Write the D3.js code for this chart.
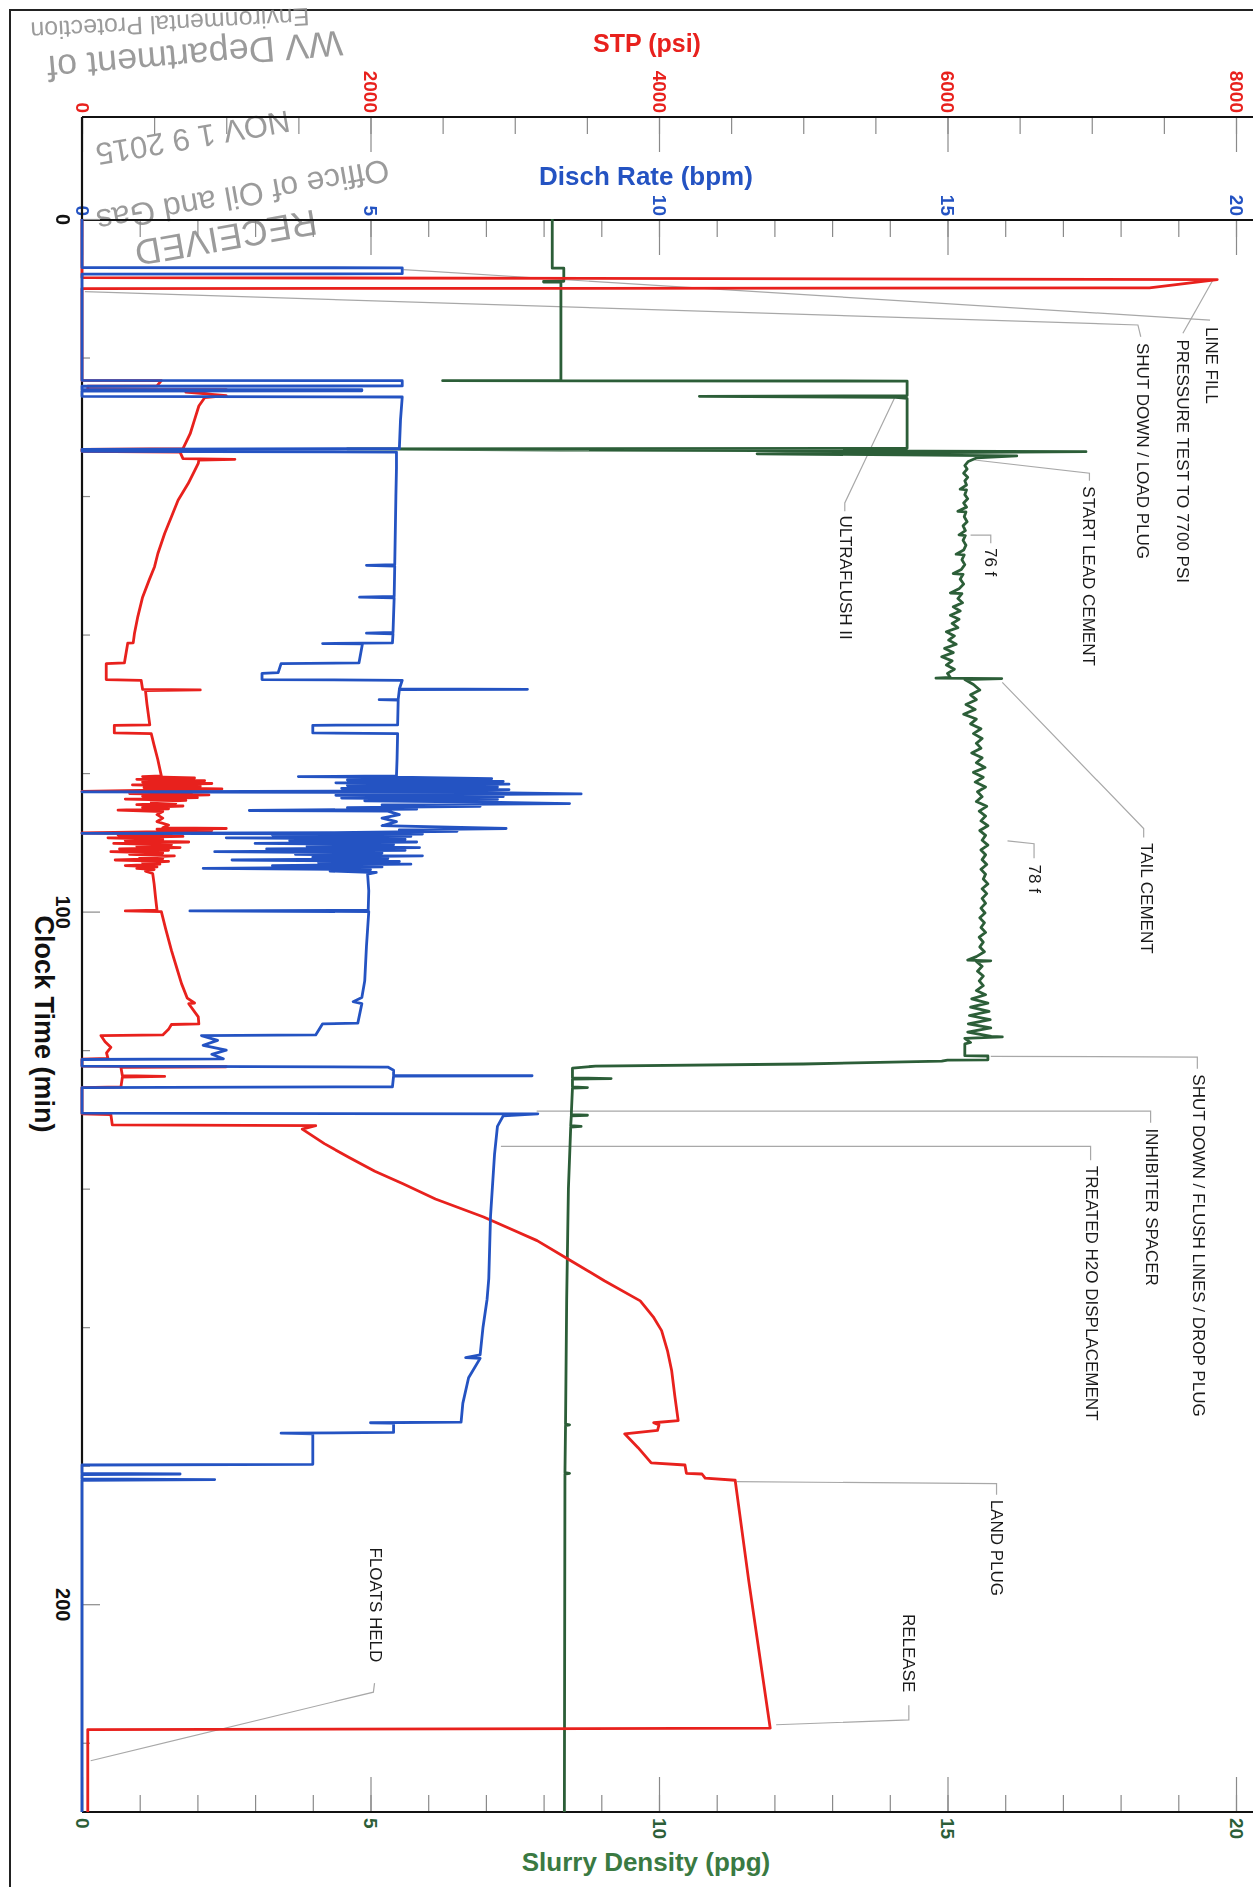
<!DOCTYPE html>
<html>
<head>
<meta charset="utf-8">
<script src="https://cdn.jsdelivr.net/npm/d3@7"></script>
<style>
  body { margin: 0; background: #fff; }
  text { font-family: "Liberation Sans", Arial, sans-serif; }
</style>
</head>
<body>
<svg id="chart" width="1253" height="1887"></svg>
<script>
// ---- data: [clock time (min), value] ----
const stpPsi = [
  [0, 0], [8.45, 0], [8.75, 7870], [9.95, 7400], [10.05, 0], [23.3, 0],
  [23.35, 550], [24.1, 520], [24.15, 40], [24.6, 40], [24.65, 1000], [25.0, 720], [25.5, 1000],
  [25.8, 850], [27.0, 810], [29.0, 780], [31.0, 750], [33.15, 700], [33.25, 0], [33.55, 0],
  [33.65, 680], [34.6, 700], [34.7, 1060], [34.8, 810], [35.3, 806], [38.2, 736], [40.6, 666],
  [43.0, 620], [45.4, 573], [48.3, 526], [50.2, 503], [52.1, 466], [54.6, 420], [57.4, 387],
  [59.8, 364], [61.2, 355], [61.25, 317], [64.1, 294], [64.2, 168], [66.5, 168], [66.6, 410],
  [67.9, 420], [68.0, 820], [68.1, 440], [70, 450], [73.05, 470], [73.1, 224], [74.2, 224],
  [74.3, 480], [76, 500], [78, 525], [80.4, 550],
  [80.5, 420], [80.7, 780], [80.9, 380], [81.1, 850], [81.3, 420], [81.5, 900], [81.7, 350],
  [81.9, 820], [82.1, 430], [82.3, 970], [82.5, 400], [82.65, 0], [82.75, 760], [82.95, 330],
  [83.15, 880], [83.35, 420], [83.55, 800], [83.75, 300], [83.95, 720], [84.15, 480], [84.35, 650],
  [84.55, 380], [84.75, 700], [84.95, 420], [85.15, 600], [85.35, 250], [85.55, 560], [86.0, 520],
  [86.5, 560], [87.0, 520], [87.5, 600], [87.9, 560], [88.0, 1000], [88.1, 520], [88.3, 900],
  [88.5, 450], [88.65, 0], [88.75, 620], [88.95, 250], [89.15, 700], [89.35, 180], [89.55, 560],
  [89.75, 300], [89.95, 740], [90.15, 220], [90.35, 620], [90.55, 380], [90.75, 680], [90.95, 260],
  [91.15, 600], [91.35, 200], [91.55, 560], [91.75, 330], [91.95, 640], [92.15, 400], [92.35, 560],
  [92.55, 230], [92.75, 600], [92.95, 420], [93.15, 540], [93.35, 300], [93.55, 520], [93.75, 380],
  [93.95, 500], [94.15, 440], [94.5, 490], [96, 500], [98, 510], [99.8, 520], [99.9, 300],
  [100.0, 550], [102.5, 580], [105.6, 620], [108, 655], [110.4, 690], [112.5, 730], [113.2, 780],
  [113.3, 740], [115.2, 806], [116.2, 810], [116.3, 620], [117.0, 600], [117.8, 560], [117.9, 131],
  [118.8, 160], [119.6, 200], [120.4, 170], [121.2, 180], [121.3, 0], [122.3, 0], [122.4, 1000],
  [122.5, 270], [123.7, 280], [123.8, 573], [123.9, 280], [125.3, 270], [125.4, 0], [129.2, 0],
  [129.3, 200], [130.8, 210], [130.9, 1620], [131.4, 1527], [133.5, 1680], [135.5, 1852],
  [137.5, 2030], [139.3, 2225], [141.5, 2450], [144.1, 2784], [147.5, 3155], [150.4, 3389],
  [153.3, 3621], [156.2, 3870], [158.5, 3960], [160.5, 4018], [163.5, 4060], [166.3, 4088],
  [170, 4110], [173.5, 4133], [173.8, 3963], [174.1, 4000], [174.9, 3990], [175.4, 3762],
  [177.4, 3855], [179.6, 3946], [179.9, 4180], [181.1, 4190], [181.2, 4298], [181.8, 4320],
  [182.1, 4528], [196.6, 4622], [217.9, 4771], [218.1, 40], [230, 40]
];

const dischRate = [
  [0, 0], [7.0, 0], [7.05, 5.55], [7.9, 5.55], [7.95, 0], [23.3, 0], [23.35, 5.55], [24.1, 5.55],
  [24.15, 0], [24.6, 0], [24.65, 4.85], [24.8, 4.85], [24.85, 0], [25.6, 0], [25.7, 5.55],
  [29, 5.52], [33.15, 5.5], [33.25, 0], [33.55, 0], [33.65, 5.45], [36, 5.45], [40, 5.44],
  [45, 5.43], [49.9, 5.42], [50.0, 4.93], [50.1, 5.42], [54.5, 5.41], [54.6, 4.81], [54.7, 5.41],
  [59.7, 5.39], [59.8, 4.93], [59.9, 5.39], [61.2, 5.38], [61.3, 4.17], [61.35, 4.86], [64.1, 4.8],
  [64.2, 3.45], [65.5, 3.4], [65.6, 3.12], [66.5, 3.12], [66.6, 5.55], [67.85, 5.5], [67.9, 7.72],
  [67.95, 5.5], [69.35, 5.48], [69.4, 5.15], [69.45, 5.48], [73.05, 5.47], [73.1, 4.0], [74.2, 4.0],
  [74.3, 5.47], [78, 5.46], [80.4, 5.45],
  [80.5, 3.75], [80.6, 5.45], [80.8, 7.1], [81.0, 4.6], [81.2, 7.3], [81.4, 4.4], [81.6, 7.4],
  [81.8, 4.6], [82.0, 7.2], [82.2, 4.5], [82.4, 7.4], [82.6, 4.8], [82.7, 0], [82.8, 6.8],
  [83.0, 8.65], [83.2, 4.4], [83.4, 7.3], [83.6, 4.5], [83.8, 7.2], [84.0, 4.9], [84.2, 7.0],
  [84.4, 8.45], [84.6, 5.2], [84.8, 6.9], [85.0, 4.6], [85.2, 5.8], [85.4, 2.9], [85.5, 5.3],
  [86.0, 5.5], [86.5, 5.2], [87.0, 5.45], [87.6, 5.2], [88.0, 7.35], [88.2, 5.5], [88.4, 6.5],
  [88.6, 4.3], [88.7, 0], [88.8, 5.9], [88.95, 3.3], [89.15, 5.7], [89.35, 2.5], [89.55, 5.6],
  [89.75, 3.6], [89.95, 5.8], [90.15, 3.0], [90.35, 5.4], [90.55, 3.9], [90.75, 5.85], [90.95, 3.2],
  [91.15, 5.6], [91.35, 2.3], [91.55, 5.2], [91.75, 3.7], [91.95, 5.9], [92.15, 4.0], [92.35, 5.3],
  [92.55, 2.6], [92.75, 5.5], [92.95, 4.1], [93.15, 5.7], [93.35, 3.3], [93.55, 5.2], [93.75, 2.1],
  [93.95, 5.0], [94.15, 4.3], [94.35, 5.1], [94.6, 4.95], [97, 4.97], [99.8, 4.96], [99.9, 1.87],
  [100.0, 4.97], [105, 4.93], [110, 4.9], [112.4, 4.85], [113.0, 4.7], [113.3, 4.85], [116.1, 4.78],
  [116.2, 4.17], [117.8, 4.05], [117.9, 2.07], [118.6, 2.35], [119.3, 2.1], [120.0, 2.5],
  [120.6, 2.25], [121.25, 2.45], [121.35, 0], [122.3, 0], [122.45, 5.3], [122.9, 5.4],
  [123.65, 5.4], [123.7, 7.8], [123.75, 5.4], [125.3, 5.38], [125.4, 0], [129.1, 0], [129.2, 7.9],
  [129.5, 7.3], [131, 7.2], [135, 7.15], [144, 7.08], [153, 7.05], [156, 7.02], [160, 6.95],
  [164, 6.9], [164.4, 6.65], [164.5, 6.9], [167.3, 6.7], [171, 6.6], [173.7, 6.57], [173.8, 5.0],
  [173.9, 5.4], [175.2, 5.4], [175.3, 3.45], [175.4, 4.0], [179.8, 4.0], [179.9, 0], [181.1, 0],
  [181.2, 1.7], [181.3, 0], [181.9, 0], [182.0, 2.3], [182.1, 0], [230, 0]
];

const slurryDensity = [
  [0, 8.15], [7.1, 8.15], [7.1, 8.35], [9.0, 8.35], [9.0, 8.0], [9.1, 8.0], [9.1, 8.3], [23.3, 8.3],
  [23.35, 6.25], [23.4, 14.3], [25.5, 14.3], [25.6, 10.7], [25.75, 14.1], [25.9, 14.3], [33.1, 14.3],
  [33.2, 4.6], [33.35, 8.3], [33.6, 17.4], [33.9, 11.7], [34.2, 16.2], [34.5, 15.5], [35.0, 15.36],
  [35.6, 15.30], [36.1, 15.34], [36.7, 15.28], [37.3, 15.35], [37.8, 15.30], [38.4, 15.33],
  [39.0, 15.22], [39.1, 15.33], [39.8, 15.30], [40.4, 15.35], [41.0, 15.28], [41.6, 15.33],
  [42.2, 15.18], [42.3, 15.32], [43.0, 15.29], [43.7, 15.34], [44.3, 15.27], [45.0, 15.31],
  [45.6, 15.20], [45.7, 15.31], [46.4, 15.27], [47.1, 15.32], [47.8, 15.28], [48.4, 15.15],
  [48.5, 15.29], [49.2, 15.25], [49.9, 15.30], [50.6, 15.24], [51.2, 15.10], [51.3, 15.27],
  [52.0, 15.22], [52.7, 15.28], [53.4, 15.20], [54.0, 15.05], [54.1, 15.25], [54.8, 15.18],
  [55.4, 15.26], [56.0, 15.10], [56.6, 15.22], [57.2, 15.05], [57.8, 15.20], [58.4, 15.08],
  [59.0, 15.18], [59.6, 14.98], [60.2, 15.12], [60.8, 15.02], [61.4, 15.15], [62.0, 14.95],
  [62.6, 15.10], [63.2, 14.90], [63.8, 15.08], [64.4, 14.98], [65.0, 15.12], [65.6, 15.0],
  [66.2, 15.05], [66.3, 14.8], [66.35, 15.94], [66.5, 15.3], [67.2, 15.45], [68.0, 15.56],
  [68.7, 15.4], [69.4, 15.5], [70.1, 15.32], [70.8, 15.48], [71.5, 15.28], [72.2, 15.5],
  [72.9, 15.4], [73.6, 15.58], [74.3, 15.45], [75.0, 15.6], [75.7, 15.5], [76.4, 15.58],
  [77.1, 15.42], [77.8, 15.6], [78.5, 15.5], [79.2, 15.65], [79.9, 15.45], [80.6, 15.62],
  [81.3, 15.48], [82.0, 15.66], [82.7, 15.52], [83.4, 15.6], [84.1, 15.5], [84.8, 15.68],
  [85.5, 15.55], [86.2, 15.66], [86.9, 15.58], [87.6, 15.7], [88.3, 15.56], [89.0, 15.66],
  [89.7, 15.6], [90.4, 15.7], [91.1, 15.58], [91.8, 15.66], [92.5, 15.6], [93.2, 15.68],
  [93.9, 15.58], [94.6, 15.66], [95.3, 15.62], [96.0, 15.7], [96.7, 15.6], [97.4, 15.68],
  [98.1, 15.6], [98.8, 15.66], [99.5, 15.58], [100.2, 15.65], [100.9, 15.56], [101.6, 15.64],
  [102.3, 15.58], [103.0, 15.66], [103.7, 15.55], [104.4, 15.62], [105.1, 15.56], [105.8, 15.64],
  [106.5, 15.5], [107.0, 15.35], [107.1, 15.75], [107.2, 15.5], [107.9, 15.6], [108.6, 15.52],
  [109.3, 15.62], [110.0, 15.55], [110.7, 15.62], [111.4, 15.5], [112.0, 15.66], [112.6, 15.42],
  [113.2, 15.7], [113.8, 15.4], [114.4, 15.72], [115.0, 15.38], [115.6, 15.74], [116.2, 15.36],
  [116.8, 15.75], [117.4, 15.35], [118.0, 15.76], [118.1, 15.95], [118.3, 15.3], [118.9, 15.4],
  [119.1, 15.3], [120.8, 15.3], [120.85, 15.7], [121.4, 15.7], [121.45, 15.0], [121.6, 14.9],
  [122.0, 12.5], [122.3, 8.9], [122.6, 8.5], [124.0, 8.5], [124.1, 9.17], [124.2, 8.5],
  [125.3, 8.5], [125.4, 8.76], [125.5, 8.5], [129.3, 8.48], [129.4, 8.76], [129.5, 8.48],
  [130.9, 8.47], [131.0, 8.65], [131.1, 8.47], [140, 8.43], [156, 8.4], [174, 8.38],
  [174.1, 8.45], [174.2, 8.38], [181, 8.37], [181.1, 8.45], [181.2, 8.37], [230, 8.36]
];

// ---- axes ticks ----
const stpMajor = [0, 2000, 4000, 6000, 8000];
const stpMinor = d3.range(0, 8001, 500);
const rateMajor = [0, 5, 10, 15, 20];
const rateMinor = d3.range(0, 21, 1);
const densMajor = [0, 5, 10, 15, 20];
const densMinor = d3.range(0, 21, 1);
const timeMajor = [0, 100, 200];
const timeMinor = [20, 40, 60, 80, 120, 140, 160, 180, 220];

// ---- annotations: label start [time, 0-20 scale], leader polyline in same units ----
const notes = [
  { text: "LINE FILL", t: 15.6, v: 19.58, path: [[7.3, 5.57], [14.6, 19.55]] },
  { text: "PRESSURE TEST TO 7700 PSI", t: 17.4, v: 19.08, path: [[8.8, 19.6], [16.5, 19.08]] },
  { text: "SHUT DOWN / LOAD PLUG", t: 17.9, v: 18.39, path: [[10.5, 0.05], [15.3, 18.3], [17.0, 18.35]] },
  { text: "ULTRAFLUSH II", t: 42.8, v: 13.24, path: [[25.7, 14.09], [41.0, 13.22], [42.2, 13.22]] },
  { text: "START LEAD CEMENT", t: 38.6, v: 17.46, path: [[34.8, 15.47], [36.7, 17.46], [37.8, 17.46]] },
  { text: "76 f", t: 47.5, v: 15.75, path: [[45.65, 15.4], [45.65, 15.75], [46.8, 15.75]] },
  { text: "TAIL CEMENT", t: 90.1, v: 18.46, path: [[66.9, 15.95], [88.0, 18.4], [89.3, 18.4]] },
  { text: "78 f", t: 93.2, v: 16.52, path: [[89.8, 16.04], [90.2, 16.5], [92.3, 16.5]] },
  { text: "SHUT DOWN / FLUSH LINES / DROP PLUG", t: 123.5, v: 19.35, path: [[120.9, 15.75], [121.0, 19.33], [122.7, 19.33]] },
  { text: "INHIBITER SPACER", t: 131.3, v: 18.54, path: [[128.8, 7.88], [128.8, 18.52], [130.5, 18.52]] },
  { text: "TREATED H2O DISPLACEMENT", t: 136.7, v: 17.5, path: [[133.9, 7.26], [133.9, 17.48], [135.9, 17.48]] },
  { text: "LAND PLUG", t: 184.9, v: 15.85, path: [[182.3, 11.35], [182.6, 15.85], [184.2, 15.85]] },
  { text: "RELEASE", t: 201.4, v: 14.33, path: [[217.4, 12.03], [216.7, 14.33], [214.6, 14.33]] },
  { text: "FLOATS HELD", t: 191.8, v: 5.09, path: [[222.6, 0.15], [212.7, 5.05], [211.4, 5.07]] }
];

const stampLines = ["Environmental Protection", "WV Department of", "NOV 1 9 2015", "Office of Oil and Gas", "RECEIVED"];

// ---- layout ----
const W = 1253, H = 1887;
const RED = "#e8211d", BLUE = "#2453c2", GREEN = "#2c5e38";
const svg = d3.select("#chart");
svg.append("rect").attr("width", W).attr("height", H).attr("fill", "#fff");

const y = d3.scaleLinear().domain([0, 230]).range([219, 1812]);
const xRate = d3.scaleLinear().domain([0, 20]).range([82, 1236]);
const xStp = d3.scaleLinear().domain([0, 8000]).range([82, 1236]);
const xDens = xRate.copy();

const yStpAxis = 117, yRateAxis = 220, yDensAxis = 1812, xTimeAxis = 82;

// page frame (scan border)
svg.append("path").attr("d", `M10,${H} V10 H${W}`).attr("fill", "none").attr("stroke", "#222").attr("stroke-width", 2);

// stamp
const stamp = svg.append("g").attr("fill", "#8a8a8a").attr("opacity", 0.85);
const stampPos = [[170, 24, 177, 25], [195, 56, 175, 36], [193, 138, 170, 31], [243, 196, 170, 32], [226, 238, 170, 36]];
stampLines.forEach((s, i) => {
  const [sx, sy, rot, fs] = stampPos[i];
  stamp.append("text").attr("transform", `translate(${sx},${sy}) rotate(${rot})`)
    .attr("text-anchor", "middle").attr("dy", "0.35em").attr("font-size", fs).text(s);
});

// value axes
function valueAxis(scale, yPos, side, majors, minors, color, fmt) {
  const make = side === "top" ? d3.axisTop : d3.axisBottom;
  const g = svg.append("g").attr("transform", `translate(0,${yPos})`);
  g.append("g").call(make(scale).tickValues(minors).tickSizeInner(-17).tickSizeOuter(0).tickFormat(""));
  const maj = g.append("g").call(make(scale).tickValues(majors).tickSizeInner(-35).tickSizeOuter(0).tickFormat(fmt));
  g.selectAll(".domain").remove();
  g.selectAll(".tick line").attr("stroke", "#8a8a8a").attr("stroke-width", 1.2);
  maj.selectAll(".tick text")
    .attr("y", null).attr("dy", "0.35em")
    .attr("transform", side === "top" ? "translate(0,-4) rotate(90)" : "translate(0,6) rotate(90)")
    .attr("text-anchor", side === "top" ? "end" : "start")
    .attr("fill", color).attr("font-size", 19).attr("font-weight", "bold")
    .attr("font-family", "Liberation Sans, Arial, sans-serif");
  g.append("line").attr("x1", xTimeAxis).attr("x2", W).attr("stroke", "#111").attr("stroke-width", 2.2);
}
valueAxis(xStp, yStpAxis, "top", stpMajor, stpMinor, RED, d3.format("d"));
valueAxis(xRate, yRateAxis, "top", rateMajor, rateMinor, BLUE, d3.format("d"));
valueAxis(xDens, yDensAxis, "bottom", densMajor, densMinor, GREEN, d3.format("d"));

// time axis
const tg = svg.append("g").attr("transform", `translate(${xTimeAxis},0)`);
tg.append("g").call(d3.axisLeft(y).tickValues(timeMinor).tickSizeInner(-8).tickSizeOuter(0).tickFormat(""));
const tMaj = tg.append("g").call(d3.axisLeft(y).tickValues(timeMajor).tickSizeInner(-18).tickSizeOuter(0).tickFormat(d3.format("d")));
tg.selectAll(".domain").remove();
tg.selectAll(".tick line").attr("stroke", "#8a8a8a").attr("stroke-width", 1.2);
tMaj.selectAll(".tick text")
  .attr("x", null).attr("dy", "0.35em")
  .attr("transform", "translate(-19,0) rotate(90)")
  .attr("text-anchor", "middle").attr("fill", "#111")
  .attr("font-size", 20).attr("font-weight", "bold")
  .attr("font-family", "Liberation Sans, Arial, sans-serif");
tg.append("line").attr("y1", yStpAxis).attr("y2", yDensAxis).attr("stroke", "#111").attr("stroke-width", 2.2);

// axis titles
const title = (txt, x0, y0, color, size, rot) => svg.append("text")
  .attr("transform", `translate(${x0},${y0})` + (rot ? ` rotate(${rot})` : ""))
  .attr("text-anchor", "middle").attr("dy", "0.35em")
  .attr("font-size", size).attr("font-weight", "bold").attr("fill", color).text(txt);
title("STP (psi)", 647, 43, RED, 25);
title("Disch Rate (bpm)", 646, 176, BLUE, 26);
title("Slurry Density (ppg)", 646, 1862, "#3a7a42", 26);
title("Clock Time (min)", 44, 1024, "#111", 27, 90);

// leader lines
const leader = d3.line().x(d => xRate(d[1])).y(d => y(d[0]));
svg.append("g").selectAll("path").data(notes).join("path")
  .attr("d", d => leader(d.path))
  .attr("fill", "none").attr("stroke", "#a8a8a8").attr("stroke-width", 1.2);

// series
const series = [
  { data: slurryDensity, x: xDens, color: GREEN },
  { data: stpPsi, x: xStp, color: RED },
  { data: dischRate, x: xRate, color: BLUE }
];
series.forEach(s => {
  svg.append("path")
    .attr("d", d3.line().x(d => s.x(d[1])).y(d => y(d[0]))(s.data))
    .attr("fill", "none").attr("stroke", s.color)
    .attr("stroke-width", 2.8).attr("stroke-linejoin", "round");
});

// annotation labels
svg.append("g").selectAll("text").data(notes).join("text")
  .attr("transform", d => `translate(${xRate(d.v)},${y(d.t)}) rotate(90)`)
  .attr("dy", "0.35em").attr("text-anchor", "start")
  .attr("font-size", 17).attr("fill", "#1a1a1a")
  .text(d => d.text);
</script>
</body>
</html>
